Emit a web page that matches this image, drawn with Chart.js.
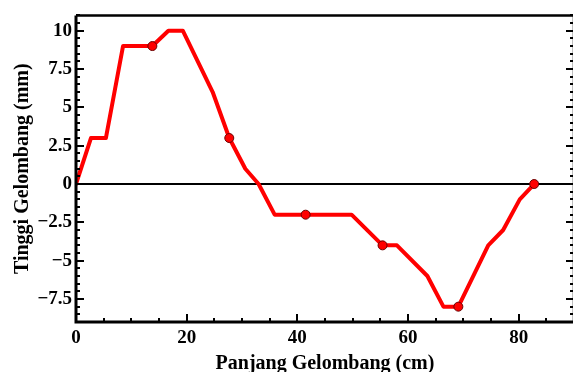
<!DOCTYPE html>
<html>
<head>
<meta charset="utf-8">
<script src="https://cdn.jsdelivr.net/npm/chart.js@4.4.0/dist/chart.umd.min.js"></script>
<style>
	html, body { margin: 0; padding: 0; background: #fff; overflow: hidden; }
	#wrap { position: relative; width: 573px; height: 372px; overflow: hidden; }
	#wrap div { position: absolute; left: 0; top: 0; width: 580px; height: 372px; }
</style>
</head>
<body>
<div id="wrap"><div><canvas id="mycanvas"></canvas></div></div>
<script>
// wave profile (x = panjang cm, y = tinggi mm)
var panjang = [0, 2.7, 5.4, 8.5, 13.8, 16.7, 19.3, 24.7, 27.7, 30.6, 33.0, 35.9, 41.5, 49.8, 55.4, 58.0, 63.5, 66.4, 69.1, 74.5, 77.2, 80.2, 82.8];
var tinggi  = [0, 3,   3,   9,   9,    10,   10,   6,    3,    1,    0,    -2,   -2,   -2,   -4,   -4,   -6,   -8,   -8,   -4,   -3,   -1,   0];
// sample points marked with a dot
var titikX = [13.8, 27.7, 41.5, 55.4, 69.1, 82.8];
var titikY = [9, 3, -2, -4, -8, 0];

var xTicks = [0, 20, 40, 60, 80];
var yTicks = [-7.5, -5, -2.5, 0, 2.5, 5, 7.5, 10];
var xMinor = 5, yMinor = 0.5;

var fontFam = "'Liberation Serif', 'Times New Roman', serif";

var garis = [];
for (var i in panjang) garis.push({x: panjang[i], y: tinggi[i]});
var titik = [];
for (var j in titikX) titik.push({x: titikX[j], y: titikY[j]});

// frame, zero line and inward ticks
var framePlugin = {
	id: 'frame',
	beforeDatasetsDraw: function(chart) {
		var c = chart.ctx, a = chart.chartArea, y = chart.scales.y;
		var y0 = y.getPixelForValue(0);
		c.save();
		c.strokeStyle = '#000';
		c.lineWidth = 2;
		c.beginPath(); c.moveTo(a.left, y0); c.lineTo(a.right, y0); c.stroke();
		c.restore();
	},
	afterDatasetsDraw: function(chart) {
		var c = chart.ctx, a = chart.chartArea, xs = chart.scales.x, ys = chart.scales.y;
		c.save();
		c.strokeStyle = '#000';
		c.lineWidth = 2;
		// minor + major ticks
		for (var v = xs.min; v <= xs.max + 1e-9; v += xMinor) {
			var px = Math.round(xs.getPixelForValue(v));
			var len = (v % 20 === 0) ? 8 : 4;
			c.beginPath(); c.moveTo(px, a.bottom); c.lineTo(px, a.bottom - len); c.stroke();
		}
		for (var w = ys.min; w <= ys.max + 1e-9; w += yMinor) {
			var py = Math.round(ys.getPixelForValue(w));
			var l2 = (Math.abs(w % 2.5) < 1e-9) ? 8 : 4;
			c.beginPath(); c.moveTo(a.left, py); c.lineTo(a.left + l2, py); c.stroke();
			c.beginPath(); c.moveTo(a.right, py); c.lineTo(a.right - l2, py); c.stroke();
		}
		// box
		c.lineWidth = 3;
		c.beginPath(); c.moveTo(a.left, a.top); c.lineTo(a.left, a.bottom); c.lineTo(a.right, a.bottom); c.stroke();
		c.lineWidth = 2.5;
		c.beginPath(); c.moveTo(a.left, a.top); c.lineTo(a.right, a.top); c.lineTo(a.right, a.bottom); c.stroke();
		c.restore();
	}
};

var ctx = document.getElementById('mycanvas');

var waveChart = new Chart(ctx, {
	type: 'scatter',
	data: {
		datasets: [
			{
				label: 'titik',
				data: titik,
				showLine: false,
				pointRadius: 4.5,
				pointBackgroundColor: '#ff0000',
				pointBorderColor: '#6a0000',
				pointBorderWidth: 1
			},
			{
				label: 'gelombang',
				data: garis,
				showLine: true,
				borderColor: '#ff0000',
				borderWidth: 4,
				borderJoinStyle: 'round',
				borderCapStyle: 'round',
				lineTension: 0,
				pointRadius: 0,
				fill: false
			}
		]
	},
	options: {
		responsive: true,
		maintainAspectRatio: false,
		animation: false,
		events: [],
		layout: { padding: { top: 13, right: 6, left: 0, bottom: 0 } },
		plugins: { legend: { display: false }, tooltip: { enabled: false } },
		scales: {
			x: {
				type: 'linear',
				min: 0,
				max: 90,
				grid: { display: false, drawTicks: false },
				border: { display: false },
				afterBuildTicks: function(s) { s.ticks = xTicks.map(function(v){ return {value: v}; }); },
				afterFit: function(s) { s.height = 50; },
				ticks: {
					color: '#000',
					padding: 5,
					maxRotation: 0,
					font: { family: fontFam, size: 19, weight: 'bold' }
				},
				title: {
					display: true,
					text: 'Panjang Gelombang (cm)',
					color: '#000',
					padding: { top: 0, bottom: -4 },
					font: { family: fontFam, size: 20, weight: 'bold' }
				}
			},
			y: {
				min: -9,
				max: 11,
				grid: { display: false, drawTicks: false },
				border: { display: false },
				afterBuildTicks: function(s) { s.ticks = yTicks.map(function(v){ return {value: v}; }); },
				afterFit: function(s) { s.width = 76; },
				ticks: {
					color: '#000',
					padding: 4,
					font: { family: fontFam, size: 19, weight: 'bold' },
					callback: function(v) { return v < 0 ? '\u2212' + Math.abs(v) : String(v); }
				},
				title: {
					display: true,
					text: 'Tinggi Gelombang (mm)',
					color: '#000',
					padding: { top: 11, bottom: 0 },
					font: { family: fontFam, size: 20, weight: 'bold' }
				}
			}
		}
	},
	plugins: [framePlugin]
});
</script>
</body>
</html>
